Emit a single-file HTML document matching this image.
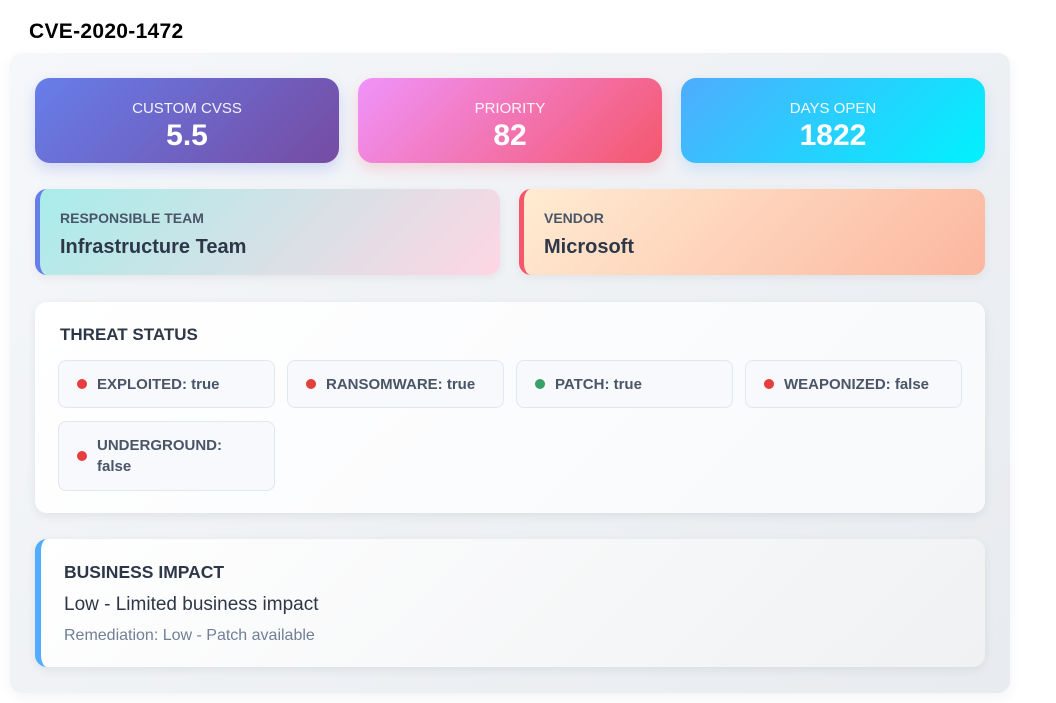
<!DOCTYPE html>
<html><head><meta charset="utf-8"><style>
*{box-sizing:border-box;margin:0;padding:0}
body{width:1056px;height:703px;background:#fff;font-family:"Liberation Sans",Arial,sans-serif;position:relative;overflow:hidden}
h1{position:absolute;left:29px;top:20px;font-size:21px;font-weight:bold;color:#000;letter-spacing:0.3px}
.wrap{position:absolute;left:10px;top:53px;width:1000px;height:640px;border-radius:12px;background:linear-gradient(135deg,#f5f7fa,#e8ebef);box-shadow:0 4px 14px rgba(0,0,0,0.05)}
.m{position:absolute;top:78px;width:304px;height:85px;border-radius:15px;color:#fff;text-align:center;box-shadow:0 6px 14px rgba(102,126,234,0.25)}
.m .l{font-size:15px;margin-top:22px;opacity:.92}
.m .v{font-size:30px;font-weight:bold;margin-top:2px}
.i{position:absolute;top:189px;height:86px;border-radius:12px;padding:21px 0 0 20px;box-shadow:0 3px 10px rgba(0,0,0,0.06)}
.i .l{font-size:14px;font-weight:bold;color:#4a5568;letter-spacing:0px}
.i .v{font-size:20px;font-weight:bold;color:#2d3748;margin-top:10px}
.ts{position:absolute;left:35px;top:302px;width:950px;height:211px;border-radius:12px;background:linear-gradient(135deg,#fff,#f7f9fb);box-shadow:0 3px 10px rgba(0,0,0,0.07)}
.ts h3{position:absolute;left:25px;top:23px;font-size:17px;color:#2d3748}
.b{position:absolute;width:217px;height:48px;border:1px solid #e2e8f0;border-radius:8px;background:#f7f9fc;font-size:15px;font-weight:bold;color:#4a5568;padding-left:38px;display:flex;align-items:center;line-height:21px}
.b::before{content:"";position:absolute;left:18px;top:50%;margin-top:-5px;width:10px;height:10px;border-radius:50%;background:#e53e3e}
.b.g::before{background:#38a169}
.bi{position:absolute;left:35px;top:539px;width:950px;height:128px;border-radius:12px;border-left:6px solid #4facfe;background:linear-gradient(135deg,#fff,#eff1f3);box-shadow:0 3px 10px rgba(0,0,0,0.07)}
.bi h3{position:absolute;left:23px;top:23px;font-size:17.5px;color:#2d3748}
.bi .d{position:absolute;left:23px;top:55px;font-size:19px;color:#2d3748}
.bi .r{position:absolute;left:23px;top:88px;font-size:16px;color:#718096}
</style></head><body>
<h1>CVE-2020-1472</h1>
<div class="wrap"></div>
<div class="m" style="left:35px;background:linear-gradient(135deg,#667eea,#764ba2)"><div class="l">CUSTOM CVSS</div><div class="v">5.5</div></div>
<div class="m" style="left:358px;background:linear-gradient(135deg,#f093fb,#f5576c);box-shadow:0 6px 14px rgba(245,87,108,0.2)"><div class="l">PRIORITY</div><div class="v">82</div></div>
<div class="m" style="left:681px;background:linear-gradient(135deg,#4facfe,#00f2fe);box-shadow:0 6px 14px rgba(79,172,254,0.2)"><div class="l">DAYS OPEN</div><div class="v">1822</div></div>
<div class="i" style="left:35px;width:465px;border-left:5px solid #667eea;background:linear-gradient(135deg,#a8edea,#fed6e3)"><div class="l">RESPONSIBLE TEAM</div><div class="v">Infrastructure Team</div></div>
<div class="i" style="left:519px;width:466px;border-left:5px solid #f5576c;background:linear-gradient(135deg,#ffecd2,#fcb69f)"><div class="l">VENDOR</div><div class="v">Microsoft</div></div>
<div class="ts"><h3>THREAT STATUS</h3></div>
<div class="b" style="left:58px;top:360px">EXPLOITED: true</div>
<div class="b" style="left:287px;top:360px">RANSOMWARE: true</div>
<div class="b g" style="left:516px;top:360px">PATCH: true</div>
<div class="b" style="left:745px;top:360px">WEAPONIZED: false</div>
<div class="b" style="left:58px;top:421px;height:70px">UNDERGROUND:<br>false</div>
<div class="bi"><h3>BUSINESS IMPACT</h3><div class="d">Low - Limited business impact</div><div class="r">Remediation: Low - Patch available</div></div>
</body></html>
